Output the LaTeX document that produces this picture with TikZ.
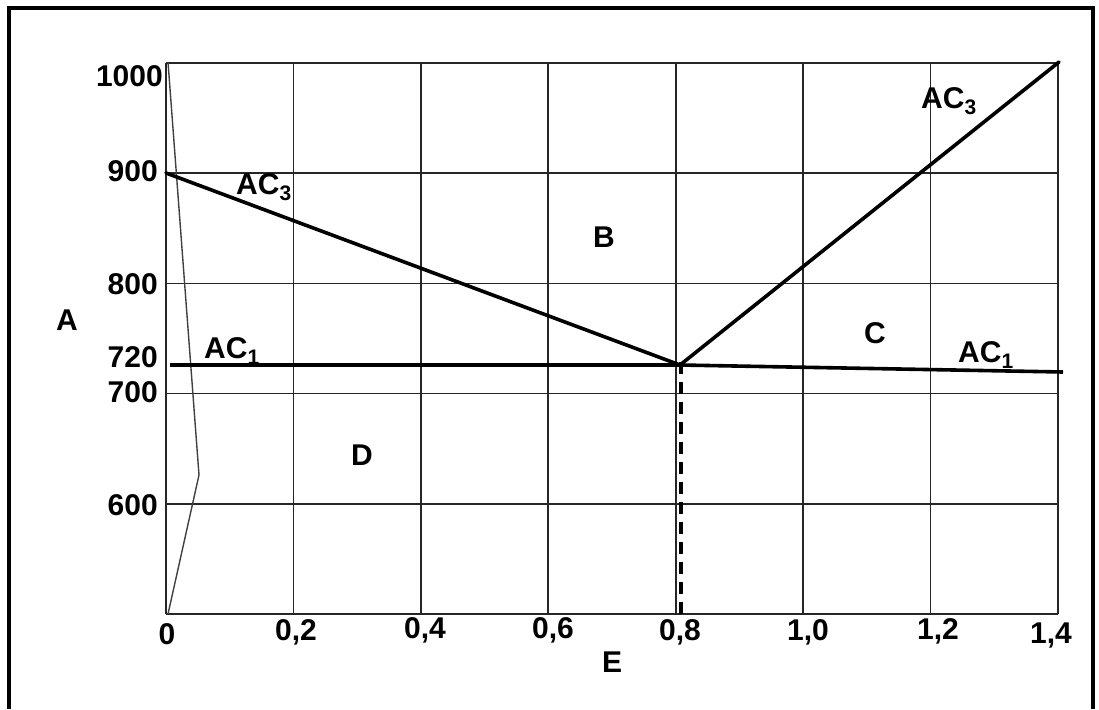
\documentclass[tikz,border=0pt]{standalone}
\usepackage{fontspec}
\setmainfont{Liberation Sans}
\begin{document}
\begin{tikzpicture}[x=1pt,y=-1pt,
  lbl/.style={font=\fontsize{30}{32}\selectfont\bfseries, inner sep=0pt},
  ylbl/.style={lbl, anchor=east},
  gridline/.style={line width=1.6pt, black!85},
  thickline/.style={line width=3.6pt, black},
  thinline/.style={line width=1.4pt, black!75},
  dashline/.style={line width=3.6pt, black, dash pattern=on 12pt off 8pt}]
\useasboundingbox (0,0) rectangle (1099,709);
% frame
\draw[line width=4pt] (9,709) -- (9,8) -- (1093,8) -- (1093,709);
% grid
\foreach \i in {0,...,7} {\draw[gridline] ({166+\i*127.43},63) -- ({166+\i*127.43},614);}
\foreach \j in {0,...,5} {\draw[gridline] (166,{63+\j*110.2}) -- (1058,{63+\j*110.2});}
% thin curve
\coordinate (t0) at (168,62);
\coordinate (t1) at (199,475);
\coordinate (t2) at (168,614);
\draw[thinline] (t0) -- (t1) -- (t2);
% lines
\coordinate (p900) at (166,173);
\coordinate (eut) at (680,365);
\coordinate (top) at (1059,62);
\coordinate (a1l) at (170,365);
\coordinate (a1r) at (1063,372);
\coordinate (dbot) at (681,614);
\draw[thickline] (a1l) -- (eut) -- (a1r);
\draw[thickline, line cap=round] (p900) -- (eut) -- (top);
\draw[dashline] ([yshift=3pt]eut.center) ++(1,0) -- (dbot);
% y labels
\node[ylbl] (l1000) at (163,76) {1000};
\node[ylbl] (l900) at (158,171) {900};
\node[ylbl] (l800) at (158,284) {800};
\node[ylbl] (l720) at (158,357) {720};
\node[ylbl] (l700) at (158,392) {700};
\node[ylbl] (l600) at (158,505) {600};
% x labels
\node[lbl] (x0) at (167,634) {0};
\node[lbl] (x2) at (296,632) {0,2};
\node[lbl] (x4) at (425,630) {0,4};
\node[lbl] (x6) at (553,630) {0,6};
\node[lbl] (x8) at (680,632) {0,8};
\node[lbl] (x10) at (808,632) {1,0};
\node[lbl] (x12) at (938,631) {1,2};
\node[lbl] (x14) at (1051,635) {1,4};
% letters
\node[lbl] (A) at (67,320) {A};
\node[lbl] (B) at (604,237) {B};
\node[lbl] (C) at (875,333) {C};
\node[lbl] (D) at (362,455) {D};
\node[lbl] (E) at (612,662) {E};
% AC labels
\node[lbl, anchor=west] (ac3l) at (236,187) {AC\textsubscript{3}};
\node[lbl, anchor=west] (ac3r) at (921,101) {AC\textsubscript{3}};
\node[lbl, anchor=west] (ac1l) at (204,351) {AC\textsubscript{1}};
\node[lbl, anchor=west] (ac1r) at (958,355) {AC\textsubscript{1}};
\end{tikzpicture}
\end{document}
